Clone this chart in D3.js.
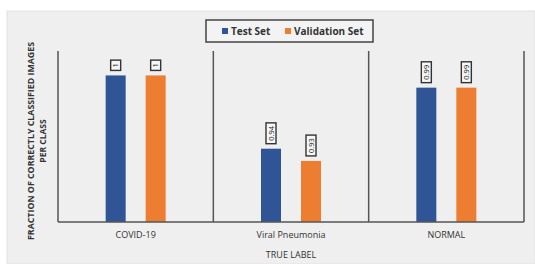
<!DOCTYPE html>
<html>
<head>
<meta charset="utf-8">
<script src="https://cdn.jsdelivr.net/npm/d3@7"></script>
<style>
  html, body { margin: 0; padding: 0; background: #ffffff; }
  svg text { font-family: "Open Sans", "Liberation Sans", sans-serif; }
</style>
</head>
<body>
<svg id="chart" width="535" height="264"></svg>
<script>
const categories = ["COVID-19", "Viral Pneumonia", "NORMAL"];
const seriesNames = ["Test Set", "Validation Set"];
const testValues = [1, 0.94, 0.99];
const validationValues = [1, 0.93, 0.99];
const valueLabels = [["1", "1"], ["0.94", "0.93"], ["0.99", "0.99"]];
const seriesColors = ["#2F5597", "#ED7D31"];
const yDomain = [0.88, 1.02];

const svg = d3.select("#chart");
const W = 535, H = 264;
const plot = { left: 58, right: 524, top: 51, bottom: 222 };

// background panel
svg.append("rect").attr("x", 7).attr("y", 11).attr("width", W - 7).attr("height", H - 11)
  .attr("fill", "#efefef").attr("stroke", "#e2e2e2");

const x = d3.scaleBand().domain(categories).range([plot.left, plot.right]).padding(0);
const xs = d3.scaleBand().domain(seriesNames).range([0, 80]).paddingInner(0.5).paddingOuter(0.25);
const y = d3.scaleLinear().domain(yDomain).range([plot.bottom, plot.top]);

const rows = categories.map((c, i) => ({
  cat: c,
  vals: [testValues[i], validationValues[i]],
  labels: valueLabels[i]
}));

// bars
const groups = svg.append("g").selectAll("g").data(rows).join("g")
  .attr("transform", d => `translate(${x(d.cat) + x.bandwidth() / 2 - 40},0)`);

groups.selectAll("rect.bar").data(d => d.vals.map((v, j) => ({ v, s: seriesNames[j], j, label: d.labels[j] })))
  .join("rect").attr("class", "bar")
  .attr("x", d => xs(d.s)).attr("width", xs.bandwidth())
  .attr("y", d => y(d.v)).attr("height", d => plot.bottom - y(d.v))
  .attr("fill", d => seriesColors[d.j]);

// data labels (rotated in boxes)
const lab = groups.selectAll("g.lab").data(d => d.vals.map((v, j) => ({ v, s: seriesNames[j], j, label: d.labels[j] })))
  .join("g").attr("class", "lab")
  .attr("transform", d => `translate(${xs(d.s) + xs.bandwidth() / 2},${y(d.v) - 8}) rotate(-90)`);
lab.each(function(d) {
  const g = d3.select(this);
  const t = g.append("text").attr("x", 0).attr("y", 0).attr("dy", "0.35em")
    .attr("font-size", 7.5).attr("fill", "#222").text(d.label);
  const w = t.node().getComputedTextLength();
  g.insert("rect", "text").attr("x", -3).attr("y", -5).attr("width", w + 6).attr("height", 10)
    .attr("fill", "#f7f7f7").attr("stroke", "#333").attr("stroke-width", 1.4);
});

// dividers & baseline
const lineColor = "#555";
const divs = [plot.left, ...categories.map(c => x(c) + x.bandwidth())];
svg.append("g").selectAll("line").data(divs).join("line")
  .attr("x1", d => d).attr("x2", d => d).attr("y1", plot.top).attr("y2", plot.bottom)
  .attr("stroke", lineColor).attr("stroke-width", 1.5);
svg.append("line").attr("x1", plot.left).attr("x2", plot.right).attr("y1", plot.bottom).attr("y2", plot.bottom)
  .attr("stroke", lineColor).attr("stroke-width", 1.5);

// x axis labels
const xAxis = d3.axisBottom(x).tickSize(0).tickPadding(10);
const xg = svg.append("g").attr("transform", `translate(0,${plot.bottom})`).call(xAxis);
xg.select(".domain").remove();
xg.selectAll("text").attr("font-size", 9).attr("fill", "#333")
  .attr("font-family", "\"Open Sans\", sans-serif");

svg.append("text").attr("x", (plot.left + plot.right) / 2).attr("y", 258)
  .attr("text-anchor", "middle").attr("font-size", 9).attr("fill", "#333").text("TRUE LABEL");

// y title
const yt = svg.append("text").attr("transform", "translate(34,141) rotate(-90)")
  .attr("text-anchor", "middle").attr("font-size", 8.5).attr("font-weight", "bold").attr("fill", "#333");
yt.append("tspan").attr("x", 0).attr("y", 0)
  .attr("textLength", 198).attr("lengthAdjust", "spacingAndGlyphs")
  .text("FRACTION OF CORRECTLY CLASSIFIED IMAGES");
yt.append("tspan").attr("x", 0).attr("y", 12).text("PER CLASS");

// legend
const lg = svg.append("g").attr("transform", "translate(206,20)");
lg.append("rect").attr("width", 167).attr("height", 22).attr("fill", "#f3f3f3")
  .attr("stroke", "#444").attr("stroke-width", 1.5);
const legendX = [16, 79];
seriesNames.forEach((s, i) => {
  lg.append("rect").attr("x", legendX[i]).attr("y", 8).attr("width", 6).attr("height", 6).attr("fill", seriesColors[i]);
  lg.append("text").attr("x", legendX[i] + 9).attr("y", 11).attr("dy", "0.35em")
    .attr("font-size", 10).attr("font-weight", "bold").attr("fill", "#333").text(s);
});
</script>
</body>
</html>
